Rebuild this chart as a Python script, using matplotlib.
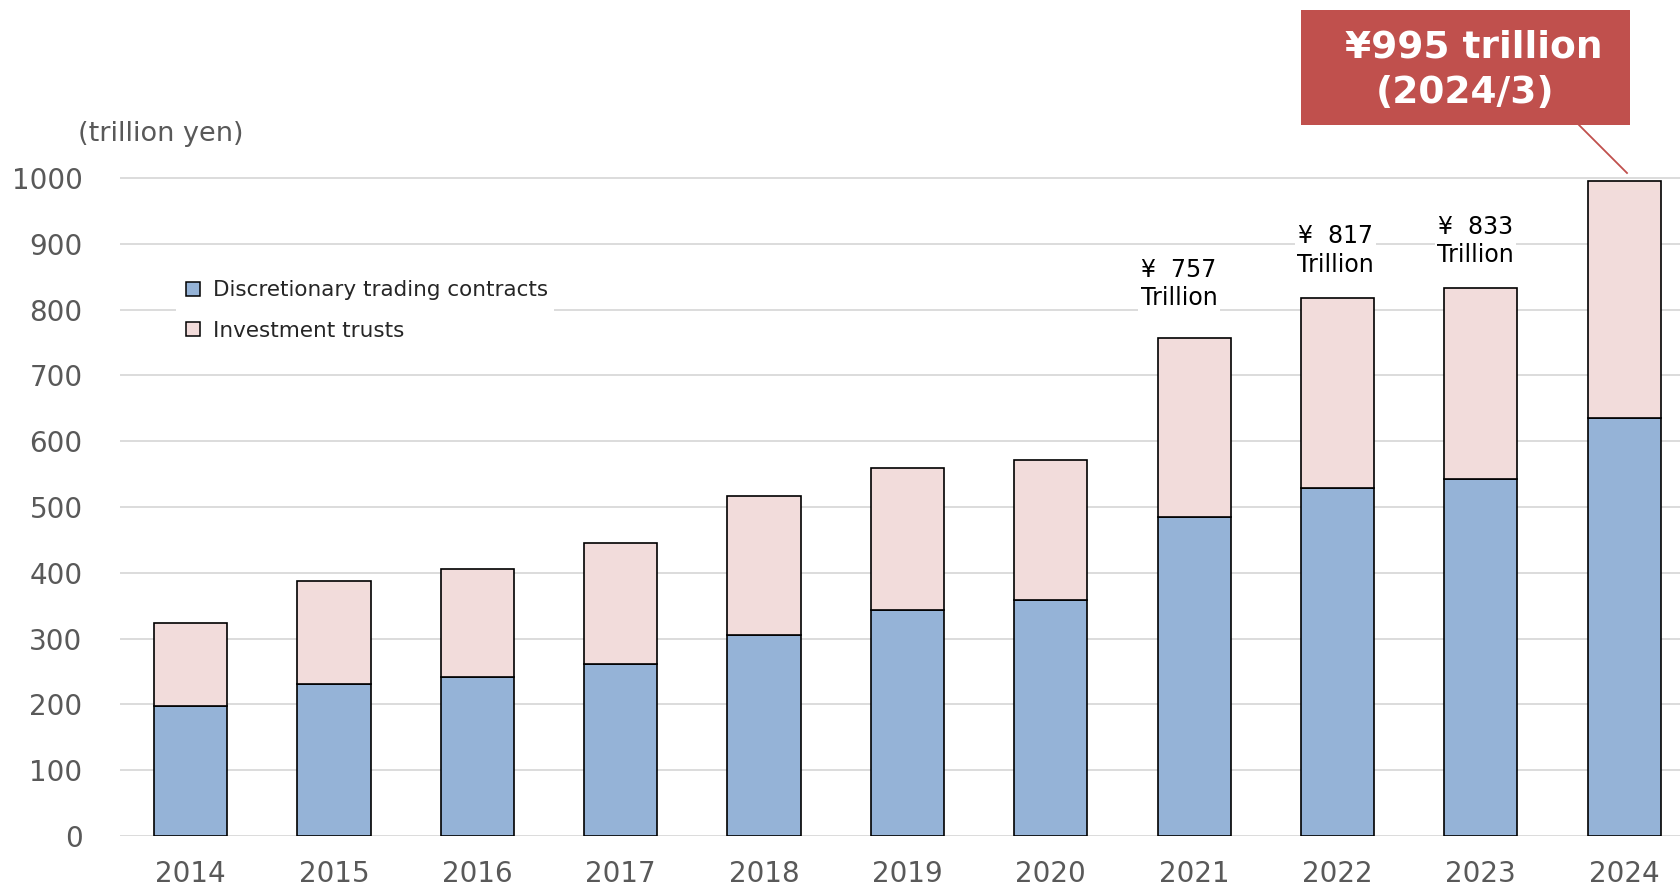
import matplotlib.pyplot as plt
from matplotlib.lines import Line2D
from matplotlib.patches import Rectangle

# assets under management, trillion yen
years = ['2014', '2015', '2016', '2017', '2018', '2019', '2020', '2021', '2022', '2023', '2024']
discretionary = [197, 231, 241, 261, 306, 344, 358, 485, 529, 542, 635]
totals = [324, 388, 406, 446, 516, 560, 572, 757, 817, 833, 995]
trusts = [t - d for t, d in zip(totals, discretionary)]

# years that get a "¥ xxx Trillion" note above the bar
noted = ['2021', '2022', '2023']
note_offsets = [(-15, 54), (-2, 48), (-5, 47)]  # px from bar top

blue = '#95B3D7'
pink = '#F2DCDB'
red = '#C0504D'
grey_text = '#595959'

fig = plt.figure(figsize=(16.8, 8.89), dpi=100)
ax = fig.add_axes([120 / 1680, 53 / 889, 1 - 120 / 1680, 658 * 1.01 / 889])

x = list(range(len(years)))
ax.bar(x, discretionary, width=0.51, color=blue, edgecolor='black', linewidth=1.2,
       label='Discretionary trading contracts', zorder=3)
ax.bar(x, trusts, width=0.51, bottom=discretionary, color=pink, edgecolor='black',
       linewidth=1.2, label='Investment trusts', zorder=3)

ax.set_xlim(-0.493, 10.39)
ax.set_ylim(0, 1010)
ax.set_yticks(range(0, 1001, 100))
ax.set_xticks(x)
ax.set_xticklabels(years)
ax.grid(axis='y', color='#D9D9D9', linewidth=1.3, zorder=0)
ax.tick_params(length=0, labelsize=20, labelcolor=grey_text)
ax.tick_params(axis='y', pad=27)
ax.tick_params(axis='x', pad=17)
for s in ax.spines.values():
    s.set_visible(False)

fig.text(78 / 1680, 1 - 134 / 889, '(trillion yen)', fontsize=19.5, color=grey_text,
         ha='left', va='center')

# legend with square markers, white box hides the gridline behind it
handles = [Line2D([], [], marker='s', linestyle='none', markersize=9.5,
                  markerfacecolor=c, markeredgecolor='black', markeredgewidth=1.1)
           for c in (blue, pink)]
leg = ax.legend(handles, ['Discretionary trading contracts', 'Investment trusts'],
                loc='upper left', bbox_to_anchor=(176 / 1680, 1 - 274 / 889),
                bbox_transform=fig.transFigure, fontsize=15.5, frameon=True,
                facecolor='white', edgecolor='none', framealpha=1,
                handletextpad=0.4, handlelength=1.0, labelspacing=0.95,
                borderpad=0.3, borderaxespad=0)
for t in leg.get_texts():
    t.set_color('#262626')
leg.set_zorder(5)

# value notes above the later bars
for yr, (dx, dy) in zip(noted, note_offsets):
    i = years.index(yr)
    ax.annotate(f'¥  {totals[i]}\nTrillion', xy=(i, totals[i]),
                xytext=(dx * 0.72, dy * 0.72), textcoords='offset points',
                ha='center', va='center', fontsize=17, linespacing=1.25,
                color='black', zorder=6,
                bbox=dict(boxstyle='square,pad=0.1', facecolor='white', edgecolor='none'))

# red callout for the latest total
fig.patches.append(Rectangle((1301 / 1680, 1 - 125 / 889), 329 / 1680, 115 / 889,
                             transform=fig.transFigure, facecolor=red, edgecolor='none'))
fig.text(1474 / 1680, 1 - 48 / 889, f'¥{totals[-1]} trillion', fontsize=27,
         fontweight='bold', color='white', ha='center', va='center')
fig.text(1465 / 1680, 1 - 93 / 889, '(2024/3)', fontsize=27,
         fontweight='bold', color='white', ha='center', va='center')
fig.add_artist(Line2D([1579 / 1680, 1627 / 1680], [1 - 125 / 889, 1 - 173 / 889],
                      transform=fig.transFigure, color=red, linewidth=1.3))

fig.savefig('out.png', dpi=100)
